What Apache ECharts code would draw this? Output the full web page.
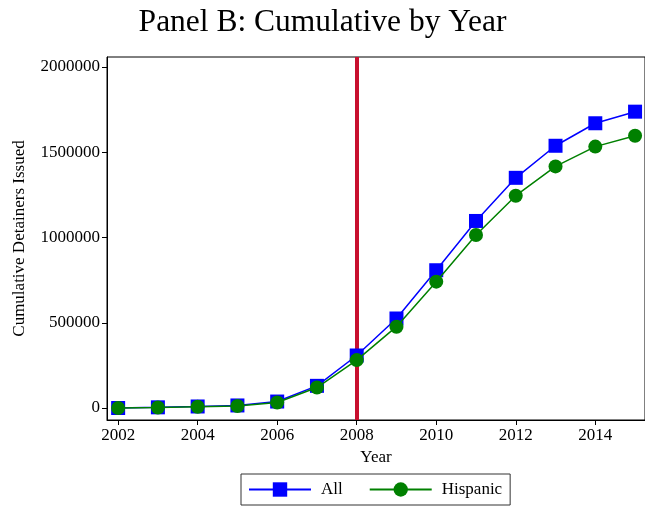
<!DOCTYPE html>
<html>
<head>
<meta charset="utf-8">
<script src="https://cdn.jsdelivr.net/npm/echarts@6/dist/echarts.min.js"></script>
<style>html,body{margin:0;padding:0;background:#fff;}#c{width:645px;height:506px;}</style>
</head>
<body>
<div id="c"></div>
<script>
var years = [2002, 2003, 2004, 2005, 2006, 2007, 2008, 2009, 2010, 2011, 2012, 2013, 2014, 2015];
var allValues = [0, 4000, 9000, 15000, 38000, 130000, 308000, 525000, 808000, 1097000, 1350000, 1538000, 1670000, 1738000];
var hispanicValues = [0, 3000, 7000, 12000, 32000, 120000, 281000, 477000, 741000, 1015000, 1245000, 1417000, 1533000, 1597000];
var xTicks = [2002, 2004, 2006, 2008, 2010, 2012, 2014];
var yTicks = [0, 500000, 1000000, 1500000, 2000000];
var policyYear = 2008;

var FONT = '"Liberation Serif", "Times New Roman", serif';
var chart = echarts.init(document.getElementById('c'), null, {renderer: 'canvas'});
function pairs(vals) { return years.map(function (y, i) { return [y, vals[i]]; }); }
chart.setOption({
  animation: false,
  backgroundColor: '#fff',
  title: {
    text: 'Panel B: Cumulative by Year',
    left: 'center', top: 2,
    textStyle: {fontFamily: FONT, fontSize: 31.5, fontWeight: 'normal', color: '#000'}
  },
  grid: {left: 107, top: 57, width: 538, bottom: 86, show: true, borderColor: '#000', borderWidth: 1, backgroundColor: '#fff'},
  legend: {
    left: 241, top: 474,
    padding: [7, 8, 7, 7],
    itemWidth: 62, itemHeight: 18, itemGap: 26,
    borderColor: '#333', borderWidth: 1,
    textStyle: {fontFamily: FONT, fontSize: 17, color: '#000', padding: [0, 0, 0, 5]},
    data: ['All', 'Hispanic']
  },
  xAxis: {
    type: 'value', min: 2001.72, max: 2015.25,
    name: 'Year', nameLocation: 'middle', nameGap: 29,
    nameTextStyle: {fontFamily: FONT, fontSize: 17, color: '#000'},
    axisLine: {show: true, onZero: false, lineStyle: {color: '#000', width: 1}},
    axisTick: {show: true, length: 5, customValues: xTicks, lineStyle: {color: '#000'}},
    axisLabel: {customValues: xTicks, margin: 7, fontFamily: FONT, fontSize: 17, color: '#000',
      formatter: function (v) { return String(v); }},
    splitLine: {show: false}
  },
  yAxis: {
    type: 'value', min: -70300, max: 2058600,
    name: 'Cumulative Detainers Issued', nameLocation: 'middle', nameGap: 79,
    nameTextStyle: {fontFamily: FONT, fontSize: 17, color: '#000'},
    axisLine: {show: true, onZero: false, lineStyle: {color: '#000', width: 1}},
    axisTick: {show: true, length: 5, customValues: yTicks, lineStyle: {color: '#000'}},
    axisLabel: {customValues: yTicks, margin: 7, fontFamily: FONT, fontSize: 17, color: '#000',
      formatter: function (v) { return String(v); }},
    splitLine: {show: false}
  },
  series: [
    {
      name: 'All', type: 'line', data: pairs(allValues),
      symbol: 'rect', symbolSize: 14,
      itemStyle: {color: '#0000ff'},
      lineStyle: {color: '#0000ff', width: 1.5},
      z: 3,
      markLine: {
        silent: true, symbol: 'none',
        label: {show: false},
        lineStyle: {color: '#c8102e', width: 4, type: 'solid'},
        data: [{xAxis: policyYear}],
        z: 2
      }
    },
    {
      name: 'Hispanic', type: 'line', data: pairs(hispanicValues),
      symbol: 'circle', symbolSize: 14,
      itemStyle: {color: '#008000'},
      lineStyle: {color: '#008000', width: 1.5},
      z: 4
    }
  ]
});
</script>
</body>
</html>
